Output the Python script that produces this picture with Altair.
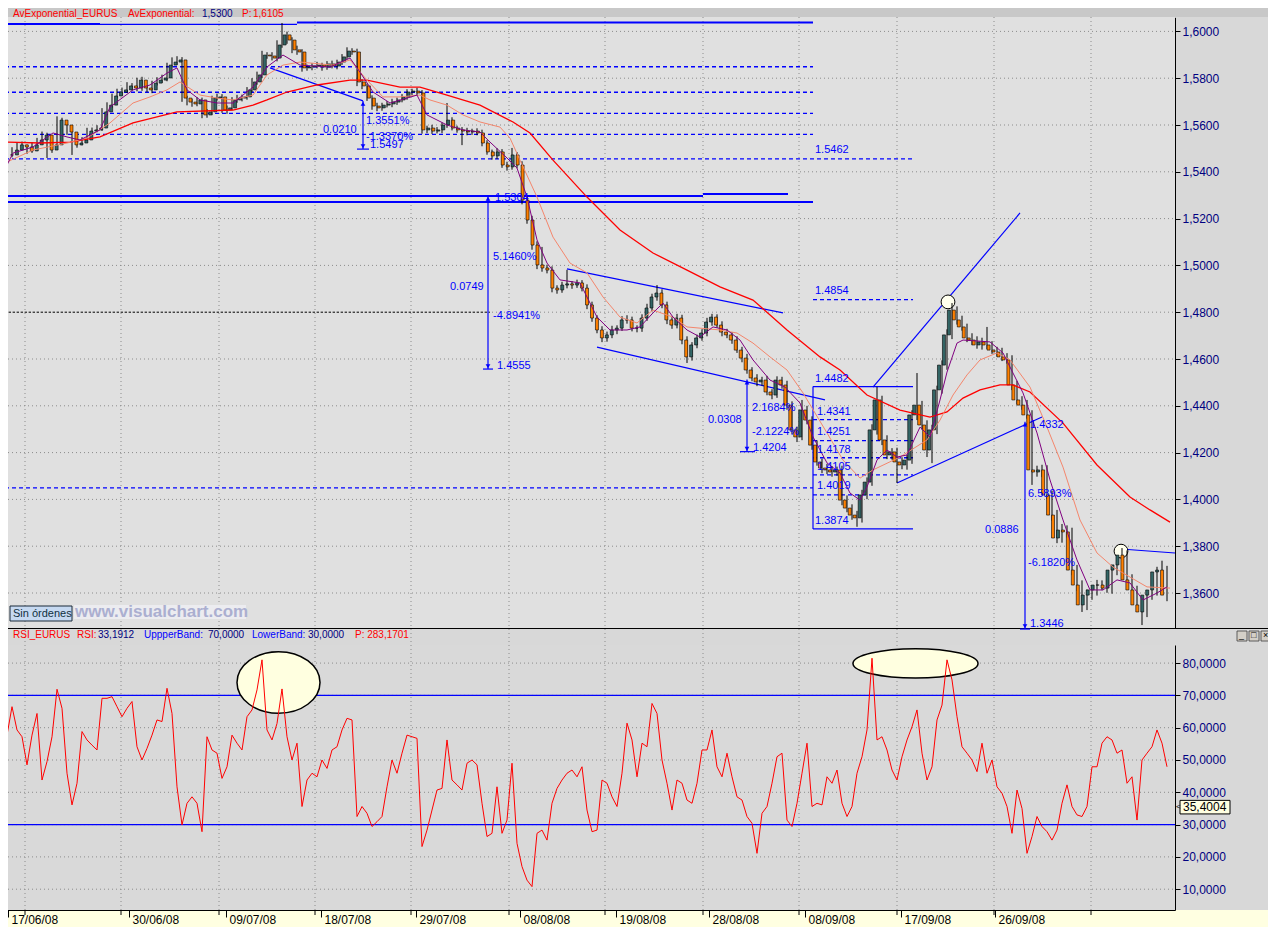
import altair as alt
import pandas as pd

FONT = "Liberation Sans"

# ---------------- data (bar index ~ 3 bars per trading day) ----------------
CLOSE = [
    1.5472, 1.5493, 1.5515, 1.5506, 1.5489, 1.5515, 1.5536, 1.5557, 1.5493, 1.5515,
    1.5621, 1.5600, 1.5570, 1.5515, 1.5523, 1.5536, 1.5574, 1.5579, 1.5587, 1.5656,
    1.5685, 1.5724, 1.5741, 1.5750, 1.5767, 1.5758, 1.5792, 1.5758, 1.5750, 1.5779,
    1.5792, 1.5801, 1.5856, 1.5869, 1.5878, 1.5715, 1.5698, 1.5690, 1.5707, 1.5643,
    1.5656, 1.5715, 1.5720, 1.5664, 1.5673, 1.5707, 1.5715, 1.5720, 1.5750, 1.5784,
    1.5814, 1.5899, 1.5895, 1.5886, 1.5942, 1.5985, 1.5963, 1.5921, 1.5912, 1.5844,
    1.5848, 1.5852, 1.5856, 1.5848, 1.5861, 1.5852, 1.5869, 1.5891, 1.5916, 1.5912,
    1.5784, 1.5767, 1.5715, 1.5681, 1.5673, 1.5685, 1.5690, 1.5698, 1.5707, 1.5720,
    1.5741, 1.5745, 1.5737, 1.5579, 1.5587, 1.5574, 1.5579, 1.5600, 1.5621, 1.5587,
    1.5579, 1.5574, 1.5570, 1.5574, 1.5566, 1.5523, 1.5485, 1.5468, 1.5485, 1.5429,
    1.5421, 1.5472, 1.5429, 1.5279, 1.5194, 1.5087, 1.5002, 1.4989, 1.4980, 1.4903,
    1.4895, 1.4916, 1.4921, 1.4916, 1.4925, 1.4903, 1.4831, 1.4775, 1.4724, 1.4690,
    1.4703, 1.4724, 1.4732, 1.4767, 1.4767, 1.4732, 1.4732, 1.4775, 1.4818, 1.4865,
    1.4882, 1.4831, 1.4767, 1.4745, 1.4775, 1.4681, 1.4609, 1.4660, 1.4690, 1.4711,
    1.4758, 1.4779, 1.4745, 1.4715, 1.4703, 1.4681, 1.4638, 1.4604, 1.4553, 1.4519,
    1.4502, 1.4510, 1.4459, 1.4446, 1.4510, 1.4489, 1.4403, 1.4297, 1.4267, 1.4382,
    1.4339, 1.4232, 1.4160, 1.4134, 1.4126, 1.4117, 1.4126, 1.3997, 1.3963, 1.3933,
    1.3921, 1.4019, 1.4074, 1.4297, 1.4425, 1.4254, 1.4190, 1.4203, 1.4160, 1.4147,
    1.4168, 1.4361, 1.4403, 1.4318, 1.4211, 1.4297, 1.4468, 1.4574, 1.4703, 1.4809,
    1.4767, 1.4737, 1.4690, 1.4681, 1.4660, 1.4673, 1.4660, 1.4638, 1.4630, 1.4609,
    1.4596, 1.4489, 1.4425, 1.4403, 1.4361, 1.4126, 1.4117, 1.4126, 1.4019, 1.3933,
    1.3835, 1.3869, 1.3861, 1.3698, 1.3634, 1.3549, 1.3591, 1.3613, 1.3634, 1.3634,
    1.3621, 1.3698, 1.3720, 1.3762, 1.3656, 1.3613, 1.3549, 1.3519, 1.3591, 1.3613,
    1.3690, 1.3698, 1.3591,
]

# wick lengths beyond the candle body, in pips (0.0001)
WICK_UP = [
    10, 12, 8, 14, 10, 12, 9, 15, 10, 12,
    16, 10, 12, 8, 10, 12, 14, 10, 12, 16,
    12, 10, 14, 10, 16, 12, 10, 14, 12, 10,
    12, 14, 10, 20, 16, 12, 10, 14, 12, 10,
    12, 10, 14, 12, 10, 12, 14, 10, 12, 16,
    14, 18, 12, 16, 20, 51, 14, 12, 18, 12,
    10, 12, 14, 10, 12, 14, 10, 12, 16, 12,
    14, 12, 10, 12, 14, 10, 12, 14, 10, 12,
    12, 10, 14, 12, 10, 14, 12, 10, 73, 12,
    10, 12, 14, 10, 12, 14, 12, 10, 16, 12,
    14, 30, 12, 16, 14, 18, 16, 77, 14, 16,
    12, 14, 60, 12, 14, 12, 16, 14, 12, 16,
    14, 18, 12, 16, 20, 14, 12, 16, 18, 14,
    34, 16, 14, 12, 18, 14, 16, 12, 14, 16,
    18, 14, 12, 16, 14, 12, 16, 14, 18, 12,
    16, 14, 18, 12, 16, 14, 18, 16, 14, 43,
    18, 16, 20, 14, 18, 16, 14, 18, 20, 16,
    18, 22, 20, 24, 56, 18, 20, 16, 18, 20,
    22, 20, 137, 18, 20, 22, 18, 20, 24, 30,
    16, 18, 14, 20, 16, 18, 64, 16, 14, 18,
    16, 20, 18, 16, 22, 20, 18, 22, 20, 18,
    22, 26, 20, 18, 22, 20, 24, 18, 22, 20,
    24, 18, 22, 30, 20, 24, 18, 22, 20, 24,
    22, 40, 18,
]
WICK_DN = [
    12, 10, 14, 10, 12, 8, 14, 10, 34, 12,
    10, 14, 12, 43, 12, 10, 12, 14, 10, 12,
    14, 12, 10, 14, 12, 10, 14, 12, 10, 14,
    10, 12, 14, 10, 12, 16, 14, 12, 10, 14,
    12, 14, 10, 12, 16, 10, 12, 14, 12, 10,
    12, 14, 12, 10, 14, 12, 16, 14, 12, 16,
    12, 14, 10, 16, 12, 10, 14, 12, 10, 12,
    18, 14, 12, 16, 14, 12, 10, 14, 12, 10,
    12, 14, 10, 16, 14, 12, 10, 14, 12, 10,
    12, 60, 14, 12, 10, 14, 12, 16, 14, 12,
    16, 12, 14, 18, 16, 20, 18, 16, 14, 18,
    16, 12, 14, 16, 12, 14, 18, 16, 14, 18,
    16, 14, 18, 12, 16, 14, 18, 16, 12, 14,
    16, 14, 18, 16, 14, 18, 26, 16, 14, 12,
    14, 16, 12, 18, 14, 16, 12, 18, 16, 14,
    18, 16, 14, 18, 12, 16, 20, 18, 22, 14,
    18, 20, 16, 22, 18, 20, 16, 22, 18, 20,
    38, 20, 18, 16, 20, 22, 18, 20, 90, 18,
    20, 16, 22, 20, 30, 56, 18, 16, 20, 18,
    20, 16, 18, 22, 16, 20, 18, 16, 20, 18,
    16, 22, 18, 20, 16, 64, 20, 22, 18, 24,
    22, 20, 24, 22, 26, 30, 22, 20, 24, 22,
    20, 24, 22, 20, 26, 22, 24, 56, 22, 20,
    24, 20, 26,
]

RSI = [
    57.7, 66.5, 59.3, 57.2, 48.5, 57.7, 64.4, 43.8, 49.5, 57.2,
    71.9, 66.0, 45.9, 36.1, 42.8, 58.8, 56.2, 54.6, 53.1, 69.1,
    69.1, 69.6, 66.5, 63.4, 66.0, 68.1, 54.1, 50.0, 53.6, 57.7,
    62.4, 61.9, 72.2, 64.4, 41.7, 29.9, 36.6, 38.6, 36.6, 27.8,
    57.2, 53.1, 52.1, 44.3, 47.9, 57.7, 55.2, 53.1, 63.4, 65.5,
    71.7, 81.0, 59.3, 56.2, 61.3, 72.0, 57.2, 50.0, 55.2, 35.6,
    43.8, 45.9, 44.8, 50.0, 47.4, 53.1, 54.1, 59.3, 62.9, 62.4,
    32.5, 35.6, 33.5, 29.4, 30.9, 32.5, 41.7, 50.0, 45.9, 52.1,
    57.7, 57.2, 56.7, 23.2, 28.3, 34.5, 40.7, 41.2, 56.2, 43.8,
    42.3, 40.7, 49.0, 50.0, 48.5, 36.6, 26.3, 27.3, 41.7, 27.3,
    31.4, 49.0, 24.2, 17.0, 12.8, 10.8, 27.3, 28.3, 25.2, 36.6,
    41.2, 43.8, 45.9, 46.9, 44.8, 47.9, 34.5, 27.8, 28.3, 43.8,
    42.8, 38.6, 35.6, 45.9, 61.4, 56.2, 44.8, 55.2, 54.1, 67.5,
    64.4, 50.0, 42.8, 34.5, 43.8, 42.8, 37.6, 36.6, 42.8, 53.1,
    53.1, 59.3, 47.9, 44.8, 52.1, 44.8, 38.6, 37.6, 32.5, 30.4,
    21.1, 33.5, 35.6, 42.8, 51.0, 52.1, 31.4, 29.4, 36.6, 45.9,
    55.2, 35.6, 36.6, 36.1, 44.8, 42.8, 46.9, 36.6, 32.5, 35.6,
    45.9, 51.0, 59.3, 81.5, 56.2, 57.2, 53.1, 46.9, 43.8, 51.0,
    56.2, 60.3, 65.5, 52.1, 43.8, 47.9, 62.4, 67.0, 81.0, 74.8,
    63.4, 54.1, 52.1, 50.0, 46.4, 55.2, 45.9, 50.0, 41.7, 39.7,
    35.6, 27.3, 40.7, 35.0, 21.1, 26.3, 32.5, 29.4, 27.8, 25.2,
    28.3, 36.6, 42.3, 35.6, 33.0, 32.5, 35.6, 47.9, 47.9, 55.2,
    57.2, 56.2, 52.1, 53.1, 42.8, 44.8, 31.4, 50.0, 52.1, 54.1,
    59.3, 55.2, 47.9,
]

EMA_SLOW_X = [0, 6.6, 12.6, 18.6, 25.2, 34, 45.2, 49.2, 52, 56,
              62, 68.6, 72, 78.6, 82.6, 88, 94.6, 101.2, 104.6, 109.2,
              116, 122.6, 129.2, 136, 142.6, 149.2, 156, 162.6, 166.6, 172,
              178.6, 184.6, 188, 191.2, 194.6, 198.6, 201.2, 204.6, 211.2, 218,
              224.6, 228.6, 232.6]
EMA_SLOW = [1.5527, 1.5523, 1.5527, 1.5549, 1.5609, 1.5656, 1.5664, 1.5685, 1.5707, 1.5741,
            1.5771, 1.5792, 1.5792, 1.5762, 1.5762, 1.5728, 1.5685, 1.5613, 1.5566, 1.5450,
            1.5292, 1.5151, 1.5053, 1.4980, 1.4908, 1.4852, 1.4724, 1.4609, 1.4553, 1.4446,
            1.4382, 1.4352, 1.4374, 1.4433, 1.4468, 1.4489, 1.4489, 1.4459, 1.4326, 1.4147,
            1.4010, 1.3955, 1.3903]

EMA_MID_X = [0, 5.2, 12, 16, 20.6, 25.2, 28.6, 32, 34.6, 38.6,
             42, 45.2, 49.2, 52, 55.2, 58.6, 65.2, 68.6, 72, 75.2,
             78.6, 82.6, 84.6, 88, 91.2, 94.6, 98.6, 100.6, 102.6, 106,
             109.2, 112.6, 116, 119.2, 122.6, 126, 129.2, 133.2, 136, 142.6,
             146, 149.2, 152.6, 156, 159.2, 164, 167.2, 170.6, 173.2, 178.6,
             184, 186.6, 189.2, 192, 194.6, 198, 200.6, 204.6, 208, 211.2,
             214.6, 218, 221.2, 224.6, 228, 232.6]
EMA_MID = [1.5442, 1.5493, 1.5523, 1.5544, 1.5609, 1.5694, 1.5720, 1.5750, 1.5784, 1.5728,
           1.5715, 1.5707, 1.5728, 1.5814, 1.5856, 1.5869, 1.5856, 1.5878, 1.5792, 1.5720,
           1.5720, 1.5728, 1.5707, 1.5685, 1.5643, 1.5613, 1.5591, 1.5544, 1.5450, 1.5292,
           1.5121, 1.5010, 1.4968, 1.4865, 1.4779, 1.4754, 1.4809, 1.4779, 1.4737, 1.4724,
           1.4711, 1.4668, 1.4609, 1.4553, 1.4455, 1.4284, 1.4168, 1.4091, 1.4126, 1.4181,
           1.4254, 1.4339, 1.4446, 1.4532, 1.4596, 1.4626, 1.4596, 1.4480, 1.4309, 1.4138,
           1.3912, 1.3771, 1.3711, 1.3668, 1.3626, 1.3621]

EMA_FAST_X = [0, 1.2, 5.2, 9.2, 12, 14.6, 18.6, 20.6, 25.2, 28.6,
              32, 34, 36, 38.6, 42, 45.2, 49.2, 52, 55.2, 58.6,
              64.6, 68.6, 70.6, 73.2, 76.6, 80, 82, 84, 88, 91.2,
              94.6, 96.6, 100, 102, 104, 106, 108, 110.6, 114.6, 118,
              120.6, 124, 126.6, 129.2, 131.2, 133.2, 136, 138.6, 141.2, 144,
              146.6, 149.2, 152.6, 155.6, 158.6, 161.2, 164, 166.6, 168.6, 170.6,
              172, 174, 176, 178, 180, 182.6, 184.6, 186.6, 188, 190,
              191.2, 196.6, 199.2, 201.2, 203.2, 206, 208.6, 211.2, 214, 216.6,
              219.2, 222, 224.6, 227.2, 230, 232]
EMA_FAST = [1.5429, 1.5480, 1.5506, 1.5566, 1.5549, 1.5536, 1.5579, 1.5677, 1.5750, 1.5771,
            1.5822, 1.5844, 1.5750, 1.5707, 1.5694, 1.5694, 1.5762, 1.5848, 1.5899, 1.5856,
            1.5848, 1.5886, 1.5826, 1.5741, 1.5694, 1.5715, 1.5728, 1.5643, 1.5600, 1.5579,
            1.5570, 1.5527, 1.5459, 1.5416, 1.5292, 1.5109, 1.5010, 1.4938, 1.4925, 1.4779,
            1.4724, 1.4724, 1.4737, 1.4797, 1.4839, 1.4779, 1.4724, 1.4694, 1.4737, 1.4724,
            1.4681, 1.4596, 1.4510, 1.4480, 1.4412, 1.4267, 1.4156, 1.4113, 1.4027, 1.3997,
            1.4053, 1.4168, 1.4211, 1.4181, 1.4190, 1.4309, 1.4267, 1.4425, 1.4544, 1.4668,
            1.4681, 1.4673, 1.4626, 1.4540, 1.4455, 1.4284, 1.4083, 1.3912, 1.3741, 1.3613,
            1.3613, 1.3656, 1.3643, 1.3570, 1.3600, 1.3626]

PRICE_TICKS = [1.36, 1.38, 1.40, 1.42, 1.44, 1.46, 1.48, 1.50, 1.52, 1.54, 1.56, 1.58, 1.60]
RSI_TICKS = [10, 20, 30, 40, 50, 60, 70, 80]
GRID_X = [3.6, 22.8, 42.4, 61.6, 80.8, 100.4, 119.6, 139.2, 158.4, 178.0, 197.4, 216.8]
DATE_POS = [0.2, 24.4, 43.8, 62.8, 81.8, 102.6, 121.8, 140.4, 159.6, 178.8, 197.6]
DATE_LBL = ["17/06/08", "30/06/08", "09/07/08", "18/07/08", "29/07/08", "08/08/08",
            "19/08/08", "28/08/08", "08/09/08", "17/09/08", "26/09/08"]

# drawing objects (bar index, price) -> (bar index, price)
LINES_THICK = [(-0.4, 1.6032, 18.6, 1.6032), (58, 1.6038, 161.2, 1.6038),
               (-0.4, 1.5297, 139.2, 1.5297), (139.2, 1.5305, 156.2, 1.5305),
               (-0.4, 1.5271, 161.2, 1.5271)]
LINES_THIN = [(18.6, 1.6030, 58, 1.6030), (52.6, 1.5844, 71.2, 1.5703),
              (71.2, 1.5703, 71.2, 1.5497), (70.0, 1.5497, 72.4, 1.5497),
              (96.2, 1.5297, 96.2, 1.4557), (95.2, 1.4557, 97.2, 1.4557),
              (112, 1.4985, 155.2, 1.4797), (118, 1.4651, 163.6, 1.4425),
              (148, 1.4512, 148, 1.4204), (146.6, 1.4204, 149.6, 1.4204),
              (161.2, 1.4482, 181.2, 1.4482), (161.2, 1.3874, 181.2, 1.3874),
              (161.2, 1.4482, 161.2, 1.3874), (173.2, 1.4480, 202.6, 1.5224),
              (178, 1.4070, 207, 1.4352), (203.6, 1.4332, 203.6, 1.3446),
              (202.6, 1.3446, 204.6, 1.3446), (222.8, 1.3788, 233.6, 1.3771)]
LINES_DASH = [(-0.4, 1.5849, 161.2, 1.5849), (-0.4, 1.5740, 161.2, 1.5740),
              (-0.4, 1.5650, 161.2, 1.5650), (-0.4, 1.5560, 161.2, 1.5560),
              (-0.4, 1.5455, 181.2, 1.5455), (161.2, 1.4854, 181.2, 1.4854),
              (-0.4, 1.4049, 161.2, 1.4049), (161.2, 1.4341, 181.2, 1.4341),
              (161.2, 1.4251, 181.2, 1.4251), (161.2, 1.4178, 181.2, 1.4178),
              (161.2, 1.4105, 181.2, 1.4105), (161.2, 1.4019, 181.2, 1.4019)]
LINES_BLACK_DOT = [(-0.4, 1.4800, 96.6, 1.4800)]
ARROW_DOWN = [(71.2, 1.5509), (96.2, 1.4569), (148, 1.4216), (203.6, 1.3458)]
ARROW_UP = [(71.2, 1.5691), (96.2, 1.5285), (148, 1.4500), (203.6, 1.4320)]
CIRCLES = [(188.2, 1.4844), (222.8, 1.3779)]
ANN_TEXT = [
    (63.2, 1.5579, "0.0210"), (71.8, 1.5617, "1.3551%"), (71.8, 1.5549, "-1.3370%"),
    (72.6, 1.5515, "1.5497"), (161.6, 1.5493, "1.5462"), (97.6, 1.5288, "1.5304"),
    (97.2, 1.5036, "5.1460%"), (88.6, 1.4908, "0.0749"), (97.2, 1.4784, "-4.8941%"),
    (98.0, 1.4570, "1.4555"), (161.6, 1.4891, "1.4854"), (140.2, 1.4339, "0.0308"),
    (149.0, 1.4391, "2.1684%"), (149.0, 1.4288, "-2.1224%"), (149.2, 1.4220, "1.4204"),
    (161.6, 1.4515, "1.4482"), (162.0, 1.4374, "1.4341"), (162.0, 1.4288, "1.4251"),
    (162.0, 1.4211, "1.4178"), (162.0, 1.4138, "1.4105"), (162.0, 1.4057, "1.4019"),
    (161.6, 1.3908, "1.3874"), (204.6, 1.4318, "1.4332"), (204.2, 1.4023, "6.5893%"),
    (195.6, 1.3869, "0.0886"), (204.2, 1.3728, "-6.1820%"), (204.6, 1.3468, "1.3446"),
]
RSI_BANDS = [(-0.4, 70, 233.6, 70), (-0.4, 30, 233.6, 30)]
ELLIPSE_A = (54.3, 74.0)
ELLIPSE_B = (181.7, 79.9)
RSI_LAST = 35.4004

# ---------------- scales ----------------
VIEW_W, VIEW_H = 1167, 902
XS = alt.Scale(domain=[-0.2, 233.6], range=[-2, VIEW_W], nice=False, zero=False)
PS = alt.Scale(domain=[1.345, 1.606], range=[620.1, 9.36], nice=False, zero=False)
RS = alt.Scale(domain=[3.56, 85.6], range=[VIEW_H, 637], nice=False, zero=False)

ONE = pd.DataFrame({"d": [0]})


def xq(f, axis=None):
    return alt.X(f, type="quantitative", scale=XS, axis=axis)


def py(f, axis=None):
    return alt.Y(f, type="quantitative", scale=PS, axis=axis)


def ry(f, axis=None):
    return alt.Y(f, type="quantitative", scale=RS, axis=axis)


def rect_px(x1, x2, y1, y2, fill, stroke=None, sw=1.0):
    kw = dict(fill=fill)
    if stroke:
        kw.update(stroke=stroke, strokeWidth=sw)
    return alt.Chart(ONE).mark_rect(**kw).encode(
        x=alt.value(x1), x2=alt.value(x2), y=alt.value(y1), y2=alt.value(y2))


def text_px(t, x, y, color, size=11, weight="normal"):
    return alt.Chart(ONE).mark_text(
        text=t, align="left", baseline="middle", font=FONT, fontSize=size,
        fontWeight=weight, color=color).encode(x=alt.value(x), y=alt.value(y))


def segs(rows, scale, **mk):
    df = pd.DataFrame(rows, columns=["x1", "y1", "x2", "y2"])
    return alt.Chart(df).mark_rule(**mk).encode(
        x=xq("x1"), x2="x2", y=alt.Y("y1", type="quantitative", scale=scale, axis=None), y2="y2")


# ---------------- axes ----------------
num_expr = "replace(format(datum.value, '.4f'), '.', ',')"
price_axis = alt.Axis(orient="right", values=PRICE_TICKS, labelExpr=num_expr, labelColor="#000080",
                      labelFont=FONT, labelFontSize=12, tickColor="black", tickSize=5,
                      domainColor="black", labelPadding=2, grid=False, title=None, zindex=2,
                      labelFlush=False, labelOverlap=False, labelBound=False)
rsi_axis = alt.Axis(orient="right", values=RSI_TICKS, labelExpr=num_expr, labelColor="#000080",
                    labelFont=FONT, labelFontSize=12, tickColor="black", tickSize=5,
                    domainColor="black", labelPadding=2, grid=False, title=None, zindex=2,
                    labelFlush=False, labelOverlap=False, labelBound=False)
mids = [(DATE_POS[k] + DATE_POS[k + 1]) / 2 for k in range(len(DATE_POS) - 1)]
date_expr = "".join(f"datum.value < {m:.2f} ? '{l}' : " for m, l in zip(mids, DATE_LBL[:-1])) + f"'{DATE_LBL[-1]}'"
date_axis = alt.Axis(orient="bottom", values=DATE_POS, labelExpr=date_expr, labelAlign="left",
                     labelBaseline="middle", labelOffset=3, labelPadding=2, tickSize=7,
                     tickColor="black", domainColor="black", labelColor="black", labelFont=FONT,
                     labelFontSize=12, grid=False, title=None, labelFlush=False, zindex=2,
                     labelOverlap=False, labelBound=False)

# ---------------- layers ----------------
layers = []
layers.append(rect_px(0, VIEW_W, 9, 620, "#E0E0E0"))
layers.append(rect_px(0, 1260, 0, 9, "#C8C8C8"))
layers.append(rect_px(0, VIEW_W, 637, VIEW_H, "#D9D9D9"))
layers.append(rect_px(0, 1260, VIEW_H, 919, "#FFFFE1"))
layers.append(rect_px(0, 1260, 620, 621, "black"))

layers.append(alt.Chart(pd.DataFrame({"g": GRID_X})).mark_rule(color="#8C8C8C", strokeDash=[1, 3]).encode(
    x=xq("g", date_axis), y=alt.value(9), y2=alt.value(VIEW_H)))
layers.append(alt.Chart(pd.DataFrame({"g": GRID_X})).mark_rule(color="black").encode(
    x=xq("g"), y=alt.value(VIEW_H), y2=alt.value(VIEW_H + 5)))
layers.append(alt.Chart(pd.DataFrame({"p": PRICE_TICKS})).mark_rule(color="#8C8C8C", strokeDash=[1, 3]).encode(
    y=py("p", price_axis), x=alt.value(0), x2=alt.value(VIEW_W)))
layers.append(alt.Chart(pd.DataFrame({"r": RSI_TICKS})).mark_rule(color="#8C8C8C", strokeDash=[1, 3]).encode(
    y=ry("r", rsi_axis), x=alt.value(0), x2=alt.value(VIEW_W)))

layers.append(segs(LINES_BLACK_DOT, PS, color="black", strokeDash=[2, 2]))
layers.append(segs(LINES_DASH, PS, color="#0000FF", strokeWidth=1.3, strokeDash=[4, 3]))
layers.append(segs(LINES_THICK, PS, color="#0000FF", strokeWidth=2))
layers.append(segs(LINES_THIN, PS, color="#0000FF", strokeWidth=1.2))

circ = pd.DataFrame(CIRCLES, columns=["x", "p"])
layers.append(alt.Chart(circ).mark_point(shape="circle", size=190, filled=True, color="#FFFFEE",
                                          stroke="black", strokeWidth=1, opacity=1).encode(
    x=xq("x"), y=py("p")))

cdf = pd.DataFrame({"i": list(range(len(CLOSE))), "c": CLOSE})
cdf["o"] = [CLOSE[0]] + CLOSE[:-1]
cdf["hi"] = cdf[["o", "c"]].max(axis=1) + pd.Series(WICK_UP) / 10000.0
cdf["lo"] = cdf[["o", "c"]].min(axis=1) - pd.Series(WICK_DN) / 10000.0
layers.append(alt.Chart(cdf).mark_rule(color="black", strokeWidth=1).encode(
    x=xq("i"), y=py("lo"), y2="hi"))
layers.append(alt.Chart(cdf).mark_bar(size=3, stroke="black", strokeWidth=0.6).encode(
    x=xq("i"), y=py("o"), y2="c",
    color=alt.condition("datum.c >= datum.o", alt.value("#336666"), alt.value("#FF8000"))))

for xs, ys, col, w in [(EMA_SLOW_X, EMA_SLOW, "#FF0000", 1.3),
                       (EMA_MID_X, EMA_MID, "#F4866C", 1.0),
                       (EMA_FAST_X, EMA_FAST, "#800080", 1.0)]:
    layers.append(alt.Chart(pd.DataFrame({"x": xs, "p": ys})).mark_line(color=col, strokeWidth=w).encode(
        x=xq("x"), y=py("p")))

for pts, shp in [(ARROW_DOWN, "triangle-down"), (ARROW_UP, "triangle-up")]:
    layers.append(alt.Chart(pd.DataFrame(pts, columns=["x", "p"])).mark_point(
        shape=shp, size=22, filled=True, color="#0000FF", opacity=1).encode(x=xq("x"), y=py("p")))

tdf = pd.DataFrame(ANN_TEXT, columns=["x", "p", "t"])
layers.append(alt.Chart(tdf).mark_text(align="left", baseline="middle", font=FONT, fontSize=11,
                                       color="#0000FF").encode(x=xq("x"), y=py("p"), text="t:N"))

# RSI panel
layers.append(segs(RSI_BANDS, RS, color="#0000FF", strokeWidth=1.3))


def ellipse_path(ratio):
    k = 0.5523
    r = ratio
    kr = k * r
    return (f"M-1,0 C-1,{-kr:.3f} {-k},{-r:.3f} 0,{-r:.3f} C{k},{-r:.3f} 1,{-kr:.3f} 1,0 "
            f"C1,{kr:.3f} {k},{r:.3f} 0,{r:.3f} C{-k},{r:.3f} -1,{kr:.3f} -1,0 Z")


for (ex, er), rx, ryy in [(ELLIPSE_A, 41.5, 30.8), (ELLIPSE_B, 62.5, 14.7)]:
    layers.append(alt.Chart(pd.DataFrame({"x": [ex], "r": [er]})).mark_point(
        shape=ellipse_path(ryy / rx), size=(2 * rx) ** 2, filled=True, color="#FFFFE0",
        stroke="black", strokeWidth=1.5, opacity=1).encode(x=xq("x"), y=ry("r")))

rdf = pd.DataFrame({"i": list(range(len(RSI))), "r": RSI})
layers.append(alt.Chart(rdf).mark_line(color="#FF0000", strokeWidth=1).encode(x=xq("i"), y=ry("r")))

tag = pd.DataFrame({"r": [RSI_LAST], "lo": [RSI_LAST - 2.1], "hi": [RSI_LAST + 2.1],
                    "t": [f"{RSI_LAST:.4f}".replace(".", ",")]})
layers.append(alt.Chart(tag).mark_rect(fill="#FFFFE1", stroke="black", strokeWidth=1).encode(
    x=alt.value(1172), x2=alt.value(1222), y=ry("lo"), y2="hi"))
layers.append(alt.Chart(tag).mark_text(align="left", baseline="middle", font=FONT, fontSize=12,
                                       color="black").encode(x=alt.value(1175), y=ry("r"), text="t:N"))
layers.append(alt.Chart(tag).mark_text(text="<", align="left", baseline="middle", font=FONT, fontSize=8,
                                       color="black").encode(x=alt.value(1168), y=ry("r")))

# headers and decorations
RED, NAVY, BLUE = "#FF0000", "#000080", "#0000FF"
for t, x, c in [("AvExponential_EURUS", 5, RED), ("AvExponential:", 120, RED), ("1,5300", 194, NAVY),
                ("P:", 234, RED), ("1,6105", 245, RED)]:
    layers.append(text_px(t, x, 5.5, c, 10))
for t, x, c in [("RSI_EURUS", 5, RED), ("RSI:", 69, RED), ("33,1912", 90, NAVY),
                ("UppperBand:", 136, BLUE), ("70,0000", 200, NAVY), ("LowerBand:", 244, BLUE),
                ("30,0000", 300, NAVY), ("P: 283,1701", 347, RED)]:
    layers.append(text_px(t, x, 627, c, 10))

layers.append(rect_px(2, 64, 598, 613, "#C6D9F1", "#1B2B3B", 1))
layers.append(text_px("Sin órdenes", 5, 606, "#10303F", 11))
layers.append(rect_px(66, 238, 597, 611, "#ECECF0"))
layers.append(text_px("www.visualchart.com", 67, 604, "#ABAFD0", 17, "bold"))

for bx, g in [(1229, "_"), (1241, "□"), (1253, "×")]:
    layers.append(rect_px(bx, bx + 10, 623, 633, "#D4D0C8", "#404040", 0.8))
    layers.append(text_px(g, bx + 2, 627, "black", 9))

chart = alt.layer(*layers).resolve_scale(x="independent", y="independent").properties(
    width=VIEW_W, height=VIEW_H,
    autosize=alt.AutoSizeParams(type="none"),
    padding={"left": 0, "top": 0, "right": 93, "bottom": 17},
    background="#D8D8D8",
).configure_view(stroke=None)

chart.save("out.html", embed_options={"renderer": "svg", "actions": False})
